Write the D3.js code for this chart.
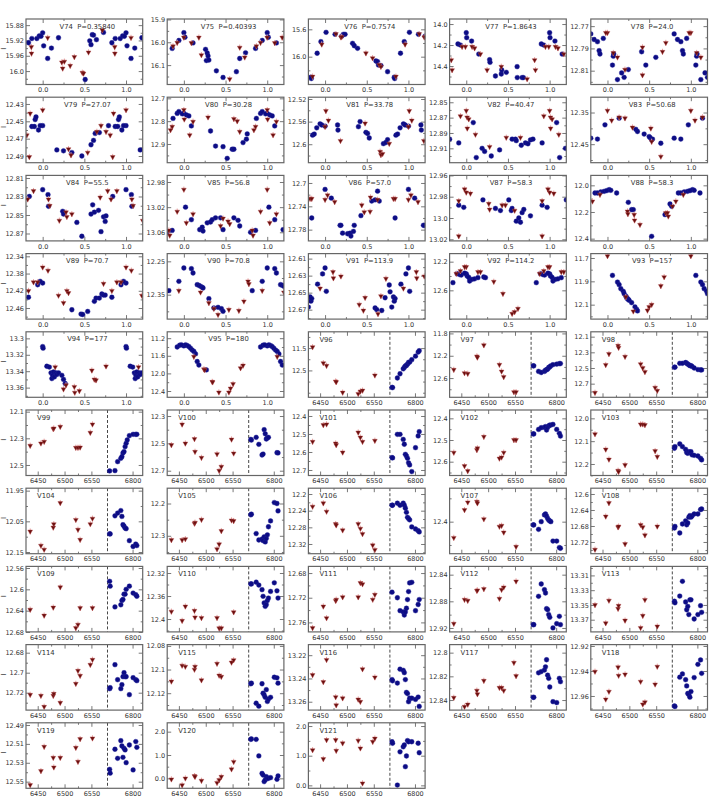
<!DOCTYPE html>
<html>
<head>
<meta charset="utf-8">
<script src="https://cdn.jsdelivr.net/npm/d3@7"></script>
<style>
  body { margin: 0; background: #fff; }
  text { font-family: "DejaVu Sans", sans-serif; fill: #333; }
</style>
</head>
<body>
<script>
// names and periods (phased panels V74-V95 have a period, V96-V121 are time series)
const ids = ["V74","V75","V76","V77","V78","V79","V80","V81","V82","V83","V84","V85","V86","V87","V88",
  "V89","V90","V91","V92","V93","V94","V95","V96","V97","V98","V99","V100","V101","V102","V103",
  "V104","V105","V106","V107","V108","V109","V110","V111","V112","V113","V114","V115","V116","V117",
  "V118","V119","V120","V121"];
const periods = ["0.35840","0.40393","0.7574","1.8643","24.0","27.07","30.28","33.78","40.47","50.68",
  "55.5","56.8","57.0","58.3","58.3","70.7","70.8","113.9","114.2","157","177","180"];

// y limits [top, bottom] and labelled y ticks
const yDomains = [[15.864,16.035],[15.898,16.185],[15.449,16.407],[13.952,14.576],[12.7636,12.8224],
  [12.4222,12.4977],[12.695,12.982],[12.5168,12.6327],[12.8434,12.9287],[12.3016,12.5085],
  [12.8072,12.878],[12.9695,13.0737],[12.687,12.7993],[12.96,13.0215],[11.9255,12.4168],
  [12.3337,12.4857],[12.2268,12.4233],[12.6041,12.6811],[12.0875,13.0014],[11.6623,12.2237],
  [13.292,13.3718],[11.055,12.543],[10.77,13.705],[11.771,12.944],[12.038,12.874],
  [12.0875,12.579],[12.256,12.735],[12.3667,12.7306],[12.3615,12.6638],[11.9635,12.2504],
  [11.942,12.1555],[12.1526,12.3554],[12.186,12.3433],[12.2566,12.5373],[12.5855,12.7493],
  [12.557,12.6798],[12.3085,12.4224],[12.6692,12.7754],[12.8276,12.9259],[13.2978,13.3865],
  [12.6719,12.7374],[12.0789,12.1343],[13.2109,13.2672],[12.7932,12.8485],[12.9189,12.9713],
  [12.4877,12.557],[2.38,-0.427],[2.109,-0.099]];
const yTicks = [[15.88,15.92,15.96,16.0],[15.9,16.0,16.1],[15.6,16.0],[14.0,14.2,14.4],[12.77,12.79,12.81],
  [12.43,12.45,12.47,12.49],[12.7,12.8,12.9],[12.52,12.56,12.6],[12.85,12.87,12.89,12.91],[12.35,12.45],
  [12.81,12.83,12.85,12.87],[12.98,13.02,13.06],[12.7,12.74,12.78],[12.96,12.98,13.0,13.02],[12.0,12.2,12.4],
  [12.34,12.38,12.42,12.46],[12.25,12.35],[12.61,12.63,12.65,12.67],[12.2,12.6],[11.7,11.9,12.1],
  [13.3,13.32,13.34,13.36],[11.2,11.6,12.0,12.4],[11.5,12.5],[11.8,12.2,12.6],[12.1,12.3,12.5,12.7],
  [12.1,12.3,12.5],[12.3,12.5,12.7],[12.4,12.5,12.6,12.7],[12.4,12.5,12.6],[12.0,12.1,12.2],
  [11.95,12.05,12.15],[12.2,12.3],[12.2,12.24,12.28,12.32],[12.4],[12.6,12.64,12.68,12.72],
  [12.56,12.6,12.64,12.68],[12.32,12.36,12.4],[12.68,12.72,12.76],[12.84,12.88,12.92],[13.31,13.33,13.35,13.37],
  [12.68,12.7,12.72],[12.08,12.1,12.12],[13.22,13.24,13.26],[12.8,12.82,12.84],[12.92,12.94,12.96],
  [12.49,12.51,12.53,12.55],[2.0,1.0,0.0],[2.0,1.0,0.0]];

const phaseTicks = [0.0, 0.5, 1.0];
const timeTicks = [6450, 6500, 6550, 6800];
const timeMinor = [6475, 6525];

// observation epochs of the time-series panels
const epochsRed = [6436,6456,6462,6479,6480,6492,6521,6525,6529,6548,6552];
const epochsBlue = [6757,6758,6767,6772,6778,6780,6782,6784,6786,6788,6790,6794,6801,6806,6808];

// phased panels: [phase, mag]
const v74b = [[0.0,15.900],[0.012,15.934],[0.06,15.967],[0.105,15.940],[0.19,15.913],[0.51,16.022],[0.565,15.921],[0.58,15.931],[0.595,15.905],[0.61,15.906],[0.645,15.918],[0.73,15.899],[0.83,15.926],[0.87,15.915],[0.93,15.915],[0.96,15.908],[0.98,15.909]];
const v74r = [[0.06,15.913],[0.23,15.977],[0.24,15.993],[0.26,15.975],[0.33,15.986],[0.38,15.963],[0.476,16.004],[0.49,16.006],[0.55,15.951],[0.716,15.893],[0.864,15.937],[0.866,15.954]];
const v75b = [[0.0,15.958],[0.013,15.978],[0.11,16.003],[0.26,16.031],[0.28,16.047],[0.29,16.06],[0.27,16.08],[0.3,16.078],[0.39,16.125],[0.47,16.154],[0.63,16.129],[0.67,16.071],[0.74,16.046],[0.86,16.027],[0.94,15.992]];
const v75r = [[0.87,16.017],[0.92,16.002],[0.0,15.979],[0.09,16.003],[0.18,15.979],[0.21,16.056],[0.55,16.161],[0.67,16.023],[0.73,16.066]];
const v76b = [[0.012,15.644],[0.12,15.673],[0.2,15.70],[0.22,15.673],[0.24,15.673],[0.33,15.805],[0.35,15.84],[0.39,15.878],[0.61,16.063],[0.63,16.073],[0.64,16.122],[0.67,16.13],[0.75,16.22],[0.83,16.30],[0.835,16.32],[0.905,15.95],[0.95,15.78]];
const v76r = [[0.96,15.82],[0.13,15.668],[0.19,15.717],[0.2,15.71],[0.49,15.95],[0.57,16.02],[0.65,16.12],[0.67,16.146],[0.85,16.29]];
const v77b = [[0.0,14.083],[0.005,14.13],[0.064,14.162],[0.15,14.286],[0.28,14.34],[0.285,14.365],[0.35,14.495],[0.42,14.476],[0.425,14.438],[0.48,14.46],[0.61,14.406],[0.612,14.51],[0.67,14.51],[0.685,14.51],[0.9,14.19],[0.93,14.2]];
const v77r = [[0.07,14.216],[0.1,14.23],[0.17,14.286],[0.25,14.438],[0.42,14.406],[0.73,14.524],[0.82,14.343],[0.83,14.438],[0.95,14.216],[0.99,14.216]];
const v78b = [[0.06,12.805],[0.07,12.797],[0.075,12.795],[0.12,12.818],[0.17,12.812],[0.2,12.816],[0.25,12.809],[0.41,12.793],[0.46,12.805],[0.58,12.798],[0.8,12.777],[0.84,12.782],[0.88,12.784],[0.9,12.792],[0.91,12.795],[0.95,12.781]];
const v78r = [[0.0,12.776],[0.07,12.794],[0.12,12.798],[0.21,12.809],[0.42,12.789],[0.42,12.814],[0.66,12.793],[0.7,12.785],[0.98,12.776]];
const v79b = [[0.0,12.455],[0.17,12.483],[0.25,12.484],[0.35,12.486],[0.47,12.49],[0.58,12.477],[0.61,12.472],[0.63,12.464],[0.68,12.463],[0.79,12.455],[0.87,12.456],[0.9,12.456],[0.91,12.448],[0.92,12.445],[0.95,12.46],[0.97,12.455]];
const v79r = [[0.0,12.437],[0.31,12.482],[0.34,12.489],[0.54,12.486],[0.65,12.462],[0.7,12.455],[0.76,12.462],[0.81,12.466],[0.85,12.441],[0.84,12.491]];
const v80b = [[0.0,12.766],[0.03,12.773],[0.06,12.777],[0.09,12.821],[0.32,12.843],[0.38,12.909],[0.47,12.912],[0.52,12.963],[0.58,12.923],[0.6,12.923],[0.71,12.894],[0.75,12.879],[0.76,12.856],[0.87,12.788],[0.92,12.766],[0.94,12.758],[0.98,12.768]];
const v80r = [[0.0,12.751],[0.005,12.792],[0.07,12.861],[0.11,12.802],[0.29,12.783],[0.6,12.79],[0.64,12.8],[0.67,12.846],[0.84,12.839],[0.86,12.824]];
const v81b = [[0.0,12.568],[0.15,12.566],[0.155,12.575],[0.4,12.569],[0.42,12.56],[0.49,12.579],[0.51,12.581],[0.53,12.589],[0.7,12.599],[0.73,12.597],[0.75,12.592],[0.85,12.584],[0.87,12.582],[0.9,12.571],[0.94,12.564],[0.96,12.566]];
const v81r = [[0.01,12.541],[0.04,12.558],[0.0,12.569],[0.185,12.594],[0.48,12.563],[0.66,12.613],[0.67,12.619],[0.69,12.617],[0.77,12.599]];
const v82b = [[0.084,12.8765],[0.12,12.922],[0.19,12.91],[0.22,12.914],[0.3,12.92],[0.4,12.912],[0.55,12.898],[0.59,12.898],[0.6,12.9],[0.66,12.906],[0.71,12.903],[0.74,12.904],[0.77,12.899],[0.8,12.898],[0.91,12.903]];
const v82r = [[0.93,12.868],[0.0,12.861],[0.01,12.8696],[0.03,12.872],[0.012,12.884],[0.11,12.892],[0.28,12.908],[0.48,12.896],[0.65,12.896]];
const v83b = [[0.14,12.368],[0.34,12.403],[0.36,12.41],[0.44,12.418],[0.5,12.426],[0.51,12.429],[0.53,12.436],[0.54,12.434],[0.64,12.447],[0.8,12.431],[0.88,12.434],[0.97,12.389]];
const v83r = [[0.0,12.344],[0.05,12.375],[0.14,12.365],[0.21,12.368],[0.3,12.397],[0.52,12.4],[0.53,12.442],[0.64,12.489]];
const v84b = [[0.0,12.8226],[0.064,12.828],[0.07,12.8406],[0.24,12.846],[0.25,12.849],[0.41,12.858],[0.47,12.873],[0.58,12.849],[0.6,12.839],[0.62,12.847],[0.67,12.845],[0.7,12.868],[0.73,12.852],[0.75,12.857],[0.76,12.851],[0.84,12.83]];
const v84r = [[0.07,12.833],[0.085,12.84],[0.2,12.856],[0.28,12.847],[0.29,12.852],[0.35,12.849],[0.69,12.831],[0.78,12.824],[0.82,12.833],[0.89,12.824]];
const v85b = [[0.02,13.02],[0.09,13.04],[0.19,13.0558],[0.22,13.052],[0.23,13.058],[0.28,13.045],[0.32,13.0436],[0.34,13.04],[0.38,13.037],[0.44,13.037],[0.47,13.0558],[0.6,13.037],[0.65,13.041],[0.67,13.05],[0.86,13.057],[0.8,13.06]];
const v85r = [[0.0,12.992],[0.03,13.045],[0.11,13.031],[0.44,13.05],[0.47,13.038],[0.53,13.0425],[0.55,13.0467],[0.82,13.057],[0.83,13.065],[0.92,13.027]];
const v86b = [[0.0,12.711],[0.075,12.726],[0.18,12.7726],[0.19,12.7726],[0.21,12.786],[0.27,12.787],[0.3,12.786],[0.31,12.791],[0.34,12.783],[0.35,12.7726],[0.43,12.756],[0.56,12.731],[0.6,12.729],[0.63,12.714],[0.65,12.731],[0.84,12.76]];
const v86r = [[0.0,12.7286],[0.03,12.721],[0.115,12.7326],[0.44,12.738],[0.47,12.75],[0.54,12.749],[0.545,12.7246],[0.63,12.7286],[0.82,12.727],[0.84,12.727]];
const v87b = [[0.2,12.983],[0.35,12.991],[0.41,12.993],[0.51,12.983],[0.54,12.993],[0.55,12.991],[0.6,13.003],[0.63,13.0],[0.65,13.004],[0.67,12.995],[0.69,12.992],[0.77,12.998],[0.91,12.988],[0.97,12.99]];
const v87r = [[0.0,12.976],[0.05,12.977],[0.27,12.9866],[0.28,12.992],[0.43,12.988],[0.47,12.988],[0.58,12.993],[0.91,12.984],[0.91,13.017],[0.98,12.973]];
const v88b = [[0.02,12.0325],[0.04,12.0375],[0.11,12.0575],[0.25,12.1275],[0.29,12.1825],[0.31,12.1825],[0.53,12.3825],[0.69,12.22],[0.75,12.14],[0.77,12.1575],[0.85,12.0575],[0.88,12.0575],[0.92,12.05],[0.96,12.045],[0.99,12.04]];
const v88r = [[0.24,12.195],[0.245,12.215],[0.32,12.22],[0.325,12.2625],[0.39,12.295],[0.7,12.2075],[0.72,12.2075],[0.73,12.2325],[0.78,12.1575],[0.82,12.12],[0.91,12.07]];
const v89b = [[0.0,12.402],[0.35,12.464],[0.46,12.474],[0.48,12.475],[0.54,12.468],[0.62,12.4445],[0.64,12.437],[0.68,12.437],[0.71,12.4275],[0.73,12.43],[0.75,12.43],[0.83,12.435],[0.94,12.406],[0.97,12.398]];
const v89r = [[0.0,12.3655],[0.064,12.373],[0.19,12.431],[0.25,12.448],[0.29,12.42],[0.31,12.425],[0.73,12.4035],[0.83,12.42],[0.89,12.4],[0.94,12.4]];
const v90b = [[0.0,12.27],[0.09,12.272],[0.11,12.285],[0.16,12.32],[0.18,12.322],[0.2,12.325],[0.22,12.328],[0.23,12.33],[0.3,12.362],[0.36,12.39],[0.41,12.388],[0.45,12.392],[0.47,12.4],[0.82,12.338],[0.94,12.31]];
const v90r = [[0.2,12.343],[0.3,12.375],[0.36,12.392],[0.41,12.41],[0.54,12.395],[0.66,12.398],[0.72,12.37],[0.77,12.31],[0.78,12.318],[0.94,12.338]];
const v91b = [[0.0,12.621],[0.015,12.6484],[0.6,12.668],[0.62,12.67],[0.68,12.671],[0.72,12.656],[0.77,12.641],[0.78,12.649],[0.8,12.667],[0.82,12.655],[0.83,12.66],[0.84,12.657],[0.91,12.64],[0.97,12.628]];
const v91r = [[0.095,12.6257],[0.1,12.633],[0.19,12.6308],[0.41,12.664],[0.46,12.671],[0.48,12.656],[0.635,12.675],[0.67,12.654],[0.73,12.6335],[0.94,12.645]];
const v92b = [[0.0,12.37],[0.01,12.4],[0.03,12.42],[0.04,12.47],[0.07,12.447],[0.1,12.44],[0.14,12.423],[0.21,12.414],[0.23,12.423],[0.84,12.493],[0.89,12.367],[0.92,12.38],[0.94,12.386],[0.98,12.36]];
const v92r = [[0.0,12.274],[0.14,12.344],[0.17,12.344],[0.33,12.479],[0.44,12.647],[0.55,12.926],[0.58,12.902],[0.62,12.856],[0.88,12.367],[0.93,12.33],[0.98,12.274]];
const v93b = [[0.06,11.849],[0.12,11.906],[0.14,11.929],[0.16,11.963],[0.19,11.986],[0.2,12.006],[0.22,12.026],[0.23,12.04],[0.24,12.049],[0.25,12.055],[0.26,12.063],[0.29,12.083],[0.33,12.12],[0.35,12.14],[0.36,12.154]];
const v93r = [[0.0,11.683],[0.22,12.034],[0.31,12.157],[0.48,12.149],[0.5,12.12],[0.53,12.1],[0.64,11.94],[0.68,11.863]];
const v94b = [[0.0,13.31],[0.005,13.312],[0.05,13.334],[0.08,13.335],[0.1,13.342],[0.11,13.349],[0.12,13.345],[0.13,13.341],[0.14,13.347],[0.16,13.342],[0.17,13.344],[0.19,13.342],[0.23,13.345],[0.25,13.35],[0.27,13.355]];
const v94r = [[0.15,13.335],[0.25,13.362],[0.28,13.357],[0.38,13.359],[0.385,13.366],[0.44,13.364],[0.59,13.339],[0.62,13.35],[0.64,13.351],[0.76,13.334]];
const v95b = [[0.0,11.375],[0.02,11.35],[0.04,11.367],[0.06,11.39],[0.08,11.43],[0.1,11.47],[0.12,11.5],[0.14,11.557],[0.16,11.73],[0.18,11.81],[0.27,11.92],[0.92,11.4],[0.95,11.36],[0.97,11.35]];
const v95r = [[0.12,11.62],[0.24,11.906],[0.25,11.92],[0.34,12.19],[0.345,12.2],[0.42,12.43],[0.54,12.43],[0.56,12.34],[0.59,12.24],[0.68,11.88],[0.71,11.82]];

// time-series panels: red mags at epochsRed, blue mags at epochsBlue (null = no point)
const v96r = [11.455,12.17,12.29,12.99,13.02,13.49,13.55,13.44,13.4,null,12.72];
const v96b = [13.26,13.27,12.84,12.65,12.43,12.37,12.3,12.28,12.22,12.14,12.13,12.02,11.86,11.68,11.62];
const v97r = [12.45,12.51,12.52,12.21,12.23,12.01,12.36,12.48,12.58,12.85,12.85];
const v97b = [12.38,12.38,12.48,12.5,12.48,12.46,12.45,12.44,12.41,12.4,12.38,12.36,12.35,12.34,12.34];
const v98r = [12.815,12.46,12.32,12.215,12.24,12.355,12.45,12.5,12.55,12.75,12.79];
const v98b = [12.49,12.49,12.44,12.44,12.43,12.44,12.45,12.46,12.47,12.47,12.48,12.5,12.52,12.525,12.525];
const v99r = [12.355,12.3375,12.325,12.23,12.225,12.2125,12.37,12.37,12.368,12.2575,12.195];
const v99b = [12.545,null,12.5425,12.475,12.45,12.4375,12.41,12.4,12.3625,12.3375,12.3125,12.28,12.27,12.27,12.27];
const v100r = [12.512,12.361,12.5,12.468,12.561,12.605,12.578,12.7,12.67,12.471,12.573];
const v100b = [12.471,12.476,12.456,12.507,12.585,12.578,12.4,12.43,12.468,12.46,12.456,null,null,12.568,12.57];
const v101r = [12.543,12.45,12.446,12.552,12.561,12.602,12.491,12.519,12.543,null,12.537];
const v101b = [12.631,12.633,12.502,12.502,12.53,12.557,12.613,12.622,12.635,12.66,12.672,12.709,12.576,12.511,12.487];
const v102r = [12.558,12.62,12.643,12.546,12.538,12.485,12.585,12.58,12.558,12.5,12.5];
const v102b = [12.472,12.472,12.451,12.443,12.442,12.438,12.454,12.442,12.435,12.431,12.431,12.428,12.451,12.469,12.482];
const v103r = [12.069,12.136,12.18,12.229,12.234,12.204,12.026,12.026,12.029,12.143,12.168];
const v103b = [12.131,12.124,12.112,12.124,12.136,12.15,12.153,12.146,12.15,12.146,12.16,12.162,12.165,12.175,12.182];
const v104r = [12.083,12.129,12.142,12.07,12.059,11.99,12.045,12.077,12.11,12.059,12.041];
const v104b = [12.091,12.091,12.032,12.023,12.015,12.034,12.061,12.066,12.072,12.074,null,12.113,12.132,12.124,12.129];
const v105r = [12.313,12.313,12.31,12.262,12.259,12.25,12.341,12.326,12.285,12.252,12.254];
const v105b = [12.235,12.233,12.293,12.313,12.31,12.315,12.303,12.319,12.308,12.297,12.272,12.254,12.197,12.2,12.223];
const v106r = [12.23,12.222,12.242,12.272,12.275,12.287,12.272,12.283,12.296,12.323,12.334];
const v106b = [12.227,12.227,12.222,12.227,12.222,12.227,12.234,12.244,12.256,12.259,12.262,12.279,12.284,12.288,12.291];
const v107r = [12.469,12.35,12.317,12.314,12.321,12.389,12.421,12.417,12.446,null,12.507];
const v107b = [12.414,12.414,12.433,12.4,12.371,12.367,12.376,12.386,12.393,12.397,12.4,12.483,12.483,12.511,12.514];
const v108r = [12.739,12.656,12.6225,12.683,12.681,12.725,12.677,12.683,12.703,null,12.681];
const v108b = [12.685,12.681,12.6975,12.675,12.667,12.677,12.6725,12.658,12.654,12.658,12.655,12.65,12.65,12.639,12.6375];
const v109r = [12.638,null,12.649,12.634,null,12.596,12.6725,12.666,12.635,null,12.635];
const v109b = [12.585,12.594,12.633,null,12.629,12.621,12.619,12.609,12.609,12.6,null,12.594,12.607,12.61,12.613];
const v110r = [12.387,12.403,12.378,12.3855,12.397,12.398,12.398,12.416,12.416,null,12.388];
const v110b = [12.339,12.339,12.336,12.341,12.349,12.3605,12.372,12.378,12.375,12.368,12.3635,12.352,12.337,12.351,12.3635];
const v111r = [12.769,12.734,12.753,12.725,12.723,12.719,12.719,12.696,12.698,12.723,12.715];
const v111b = [12.711,null,12.72,12.741,12.743,12.748,12.743,12.737,12.723,12.71,12.696,12.695,12.741,12.731,12.723];
const v112r = [12.9135,12.8775,12.879,12.864,12.8635,12.8615,12.876,12.8625,12.859,null,12.85];
const v112b = [12.915,12.915,12.8725,12.854,12.8625,12.8675,12.891,12.8925,12.9,12.904,null,12.92,12.9135,12.9025,12.915];
const v113r = [13.35,13.3746,13.344,13.355,13.351,13.371,13.381,13.3646,13.343,null,13.379];
const v113b = [13.345,13.347,13.338,13.318,13.346,13.3565,13.352,13.363,13.343,13.343,null,13.369,13.363,13.351,13.36];
const v114r = [12.722,12.723,12.734,12.723,12.721,12.73,12.711,12.698,12.703,12.692,12.687];
const v114b = [12.716,12.715,12.692,12.707,12.716,12.712,12.704,12.7,12.704,12.704,null,12.722,12.705,12.707,12.708];
const v115r = [12.11,12.0966,12.0975,12.1,12.0975,12.109,12.095,12.105,12.106,12.094,12.092];
const v115b = [12.112,12.1115,12.1285,12.131,12.112,12.12,12.1215,12.1235,12.117,12.127,12.125,12.1235,12.1065,12.107,12.1115];
const v116r = [13.237,13.243,13.224,13.256,13.263,13.257,13.258,13.26,13.232,null,13.239];
const v116b = [13.241,13.242,13.244,13.232,13.233,13.235,13.241,13.252,13.253,13.26,13.257,13.257,13.258,13.256,13.264];
const v117r = [12.838,12.8456,12.8437,12.832,12.835,12.8237,12.8296,12.8296,12.832,12.8085,12.8197];
const v117b = [12.8377,12.8377,12.817,12.816,12.8147,12.812,12.806,12.819,12.8217,12.829,null,12.8414,12.8422,12.8217,12.8245];
const v118r = [12.9405,12.9627,12.9565,12.937,12.9437,12.9427,12.9485,12.9667,12.965,12.9507,12.9365];
const v118b = [12.968,12.9685,12.945,12.9424,12.947,12.952,12.958,12.959,12.961,12.9565,null,12.9453,12.9347,12.9312,12.9419];
const v119r = [12.5535,12.5387,12.513,12.5246,12.5348,12.5246,12.514,12.5288,12.5048,null,12.5041];
const v119b = [12.537,12.541,12.5157,12.5253,12.5066,12.5122,12.5242,12.5147,12.5164,12.5299,null,12.5112,12.5376,12.5076,12.5136];
const v120r = [-0.04,-0.29,0.0,0.1,0.07,-0.1,-0.19,-0.07,0.07,0.39,0.71];
const v120b = [1.67,1.69,1.67,0.96,0.21,0.14,-0.14,-0.07,0.07,0.0,0.0,0.03,null,-0.04,0.1];
const v121r = [1.19,0.89,1.53,1.53,1.17,1.42,1.51,1.25,0.07,1.47,1.58];
const v121b = [1.47,1.42,0.01,1.13,1.3,1.36,0.63,0.99,1.51,1.47,null,1.47,null,1.42,1.1];

const blueSets = [v74b,v75b,v76b,v77b,v78b,v79b,v80b,v81b,v82b,v83b,v84b,v85b,v86b,v87b,v88b,v89b,v90b,v91b,v92b,v93b,v94b,v95b,
  v96b,v97b,v98b,v99b,v100b,v101b,v102b,v103b,v104b,v105b,v106b,v107b,v108b,v109b,v110b,v111b,v112b,v113b,v114b,v115b,v116b,v117b,v118b,v119b,v120b,v121b];
const redSets = [v74r,v75r,v76r,v77r,v78r,v79r,v80r,v81r,v82r,v83r,v84r,v85r,v86r,v87r,v88r,v89r,v90r,v91r,v92r,v93r,v94r,v95r,
  v96r,v97r,v98r,v99r,v100r,v101r,v102r,v103r,v104r,v105r,v106r,v107r,v108r,v109r,v110r,v111r,v112r,v113r,v114r,v115r,v116r,v117r,v118r,v119r,v120r,v121r];

// layout
const W = 717, H = 807;
const pw = 116.7, ph = 65.5;
const colX = c => 26 + c * 141.2;
const rowY = r => 19 + r * 78.2;
const BLUE = "#0c0c84", RED = "#6a0f0f", ERR = "#e6a3a3", FRAME = "#666";

const fmt = v => { let s = String(+v.toFixed(4)); if (!s.includes(".")) s += ".0"; return s; };

function minorOf(dom, majors) {
  const lo = Math.min(dom[0], dom[1]), hi = Math.max(dom[0], dom[1]);
  const step = majors.length > 1 ? Math.abs(majors[1] - majors[0]) : 0.2;
  const h = step / 2, out = [];
  let v = majors[0] - h * Math.ceil((majors[0] - lo) / h + 1e-9);
  for (; v <= hi + 1e-9; v += h) {
    if (v >= lo - 1e-9 && !majors.some(m => Math.abs(m - v) < h / 10)) out.push(v);
  }
  return out;
}

const svg = d3.select("body").append("svg")
  .attr("width", W).attr("height", H);

const tri = d3.symbol().type(d3.symbolTriangle).size(10)();

ids.forEach((id, k) => {
  const col = k % 5, row = Math.floor(k / 5);
  const phased = k < periods.length;
  const g = svg.append("g").attr("transform", `translate(${colX(col)},${rowY(row)})`);

  const x = phased
    ? d3.scaleLinear().domain([-0.2, 1.2]).range([0, pw])
    : d3.scaleLinear().domain([6428.2, 6580, 6753, 6819]).range([0, 81.5, 81.5, pw]);
  const y = d3.scaleLinear().domain(yDomains[k]).range([0, ph]);

  g.append("clipPath").attr("id", "c" + k)
    .append("rect").attr("width", pw).attr("height", ph);

  // ticks (inside, on all four sides)
  const majY = yTicks[k], minY = minorOf(yDomains[k], majY);
  const majX = phased ? phaseTicks : timeTicks;
  const minX = phased ? [0.25, 0.75] : timeMinor;

  const styleAxis = sel => {
    sel.select(".domain").remove();
    sel.selectAll("line").attr("stroke", "#555").attr("stroke-width", 0.8);
    sel.selectAll("text").attr("font-size", 6.5).attr("fill", "#333")
      .attr("font-family", "DejaVu Sans, sans-serif");
  };
  g.append("g").call(d3.axisLeft(y).tickValues(majY).tickSizeInner(-4).tickSizeOuter(0).tickPadding(2).tickFormat(fmt)).call(styleAxis);
  g.append("g").call(d3.axisLeft(y).tickValues(minY).tickSizeInner(-2).tickSizeOuter(0).tickFormat("")).call(styleAxis);
  g.append("g").attr("transform", `translate(${pw},0)`)
    .call(d3.axisRight(y).tickValues(majY).tickSizeInner(-4).tickSizeOuter(0).tickFormat("")).call(styleAxis);
  g.append("g").attr("transform", `translate(${pw},0)`)
    .call(d3.axisRight(y).tickValues(minY).tickSizeInner(-2).tickSizeOuter(0).tickFormat("")).call(styleAxis);
  g.append("g").attr("transform", `translate(0,${ph})`)
    .call(d3.axisBottom(x).tickValues(majX).tickSizeInner(-4).tickSizeOuter(0).tickPadding(3).tickFormat(phased ? d3.format(".1f") : d3.format("d"))).call(styleAxis);
  g.append("g").attr("transform", `translate(0,${ph})`)
    .call(d3.axisBottom(x).tickValues(minX).tickSizeInner(-2).tickSizeOuter(0).tickFormat("")).call(styleAxis);
  g.append("g")
    .call(d3.axisTop(x).tickValues(majX).tickSizeInner(-4).tickSizeOuter(0).tickFormat("")).call(styleAxis);
  g.append("g")
    .call(d3.axisTop(x).tickValues(minX).tickSizeInner(-2).tickSizeOuter(0).tickFormat("")).call(styleAxis);

  // points
  let bluePts, redPts;
  if (phased) {
    const rep = arr => arr.flatMap(([p, m]) => [-1, 0, 1].map(o => [p + o, m]))
      .filter(([p]) => p >= -0.2 && p <= 1.2);
    bluePts = rep(blueSets[k]);
    redPts = rep(redSets[k]);
  } else {
    bluePts = epochsBlue.map((t, i) => [t, blueSets[k][i]]).filter(d => d[1] != null);
    redPts = epochsRed.map((t, i) => [t, redSets[k][i]]).filter(d => d[1] != null);
  }

  const plot = g.append("g").attr("clip-path", `url(#c${k})`);

  if (!phased) {
    plot.append("line")
      .attr("x1", x(6580)).attr("x2", x(6580)).attr("y1", 0).attr("y2", ph)
      .attr("stroke", "#333").attr("stroke-width", 0.9).attr("stroke-dasharray", "3,2");
  }

  plot.selectAll(".b").data(bluePts).join("circle")
    .attr("cx", d => x(d[0])).attr("cy", d => y(d[1]))
    .attr("r", 2.4).attr("fill", BLUE).attr("stroke", "#23239a").attr("stroke-width", 0.4);

  plot.selectAll(".e").data(redPts).join("line")
    .attr("x1", d => x(d[0])).attr("x2", d => x(d[0]))
    .attr("y1", d => y(d[1]) - 3).attr("y2", d => y(d[1]) + 3)
    .attr("stroke", ERR).attr("stroke-width", 1);

  plot.selectAll(".r").data(redPts).join("path")
    .attr("d", tri)
    .attr("transform", d => `translate(${x(d[0])},${y(d[1])}) rotate(180)`)
    .attr("fill", RED).attr("stroke", "#b54a4a").attr("stroke-width", 0.4);

  // frame
  g.append("rect").attr("width", pw).attr("height", ph)
    .attr("fill", "none").attr("stroke", FRAME).attr("stroke-width", 1.2);

  // title
  if (phased) {
    g.append("text").attr("x", pw / 2 + 3).attr("y", 9.5).attr("text-anchor", "middle")
      .attr("font-size", 6.8).attr("xml:space", "preserve")
      .text(`${id}  P=${periods[k]}`);
  } else {
    g.append("text").attr("x", 11).attr("y", 10).attr("font-size", 6.8).text(id);
  }

  // y label on the left column
  if (col === 0) {
    svg.append("text")
      .attr("transform", `translate(6,${rowY(row) + ph / 2 - 3}) rotate(-90)`)
      .attr("text-anchor", "middle").attr("font-size", 7).text("I");
  }
});
</script>
</body>
</html>
